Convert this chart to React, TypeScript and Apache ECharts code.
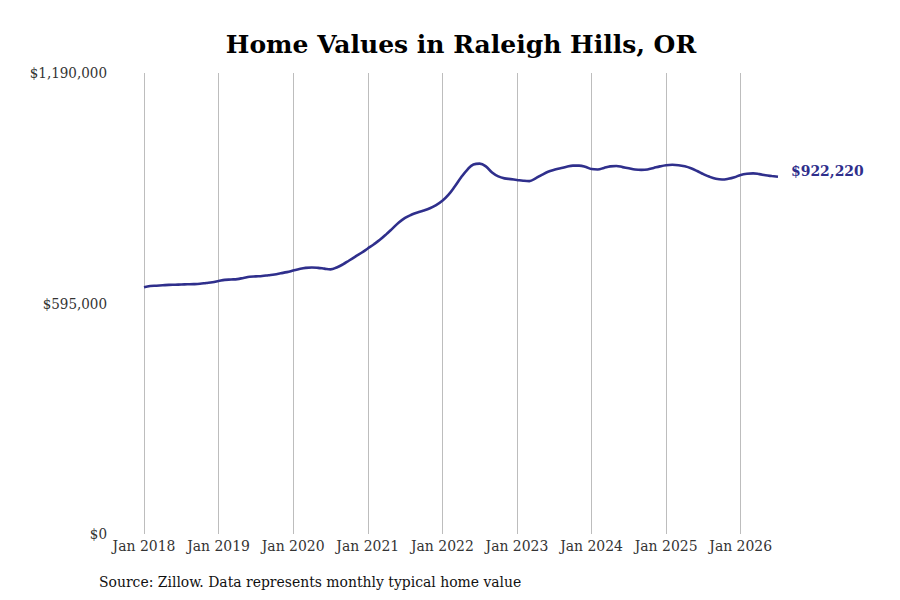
import { useRef, useEffect } from "react";
import * as echarts from "echarts";

const TITLE = "Home Values in Raleigh Hills, OR";
const SOURCE = "Source: Zillow. Data represents monthly typical home value";
const LINE_COLOR = "#2f2f8c";
const TITLE_FONT = "DejaVu Serif";
const FONT = "'DejaVu Serif Condensed', 'DejaVu Serif'";

const START_YEAR = 2018;
const MONTH_NAMES = ["Jan", "Feb", "Mar", "Apr", "May", "Jun", "Jul", "Aug", "Sep", "Oct", "Nov", "Dec"];

// monthly typical home value, Jan 2018 .. Jul 2026
const VALUES_2018 = [637000, 640000, 641000, 642000, 643000, 643500, 644000, 644500, 645000, 646000, 648000, 650000];
const VALUES_2019 = [653000, 656000, 657000, 658000, 661000, 664000, 665000, 666000, 668000, 670000, 673000, 676000];
const VALUES_2020 = [680000, 684000, 687000, 688000, 687000, 685000, 683000, 688000, 696000, 706000, 716000, 726000];
const VALUES_2021 = [737000, 748000, 760000, 774000, 789000, 804000, 816000, 824000, 830000, 835000, 841000, 849000];
const VALUES_2022 = [860000, 876000, 897000, 920000, 940000, 954000, 956000, 949000, 933000, 923000, 918000, 916000];
const VALUES_2023 = [914000, 912000, 911000, 918000, 927000, 935000, 940000, 944000, 948000, 951000, 951000, 948000];
const VALUES_2024 = [942000, 941000, 945000, 949000, 950000, 947000, 944000, 941000, 940000, 941000, 945000, 949000];
const VALUES_2025 = [952000, 953000, 952000, 949000, 944000, 937000, 929000, 922000, 917000, 915000, 917000, 921000];
const VALUES_2026 = [927000, 930000, 931000, 929000, 926000, 924000, 922220];

const VALUES = [
  ...VALUES_2018, ...VALUES_2019, ...VALUES_2020, ...VALUES_2021, ...VALUES_2022,
  ...VALUES_2023, ...VALUES_2024, ...VALUES_2025, ...VALUES_2026,
];

const MONTHS = VALUES.map((_, i) => `${MONTH_NAMES[i % 12]} ${START_YEAR + Math.floor(i / 12)}`);

const Y_MAX = 1190000;
const Y_INTERVAL = 595000;

const fmtMoney = (v: number) => "$" + Math.round(v).toLocaleString("en-US");

export default function App() {
  const ref = useRef<HTMLDivElement>(null);

  useEffect(() => {
    if (!ref.current) return;
    const chart = echarts.init(ref.current, null, { renderer: "svg" });
    const isJan = (i: number) => i % 12 === 0;

    chart.setOption({
      animation: false,
      backgroundColor: "#ffffff",
      title: {
        text: TITLE,
        left: 456,
        top: 27,
        textAlign: "center",
        textStyle: { fontFamily: TITLE_FONT, fontWeight: "bold", fontSize: 25, color: "#000" },
      },
      grid: { left: 144, top: 73, width: 634, height: 461, containLabel: false },
      xAxis: {
        type: "category",
        data: MONTHS,
        boundaryGap: false,
        axisLine: { show: false },
        axisTick: { show: false },
        axisLabel: {
          interval: (i: number) => isJan(i),
          fontFamily: FONT,
          fontSize: 15.5,
          color: "#333",
          margin: 4,
        },
        splitLine: {
          show: true,
          interval: (i: number) => isJan(i),
          lineStyle: { color: "#bdbdbd", width: 1 },
        },
      },
      yAxis: {
        type: "value",
        min: 0,
        max: Y_MAX,
        interval: Y_INTERVAL,
        axisLine: { show: false },
        axisTick: { show: false },
        splitLine: { show: false },
        axisLabel: {
          formatter: (v: number) => fmtMoney(v),
          fontFamily: FONT,
          fontSize: 15,
          color: "#333",
          margin: 37,
        },
      },
      series: [
        {
          type: "line",
          data: VALUES,
          smooth: 0.4,
          showSymbol: false,
          lineStyle: { color: LINE_COLOR, width: 2.6 },
          itemStyle: { color: LINE_COLOR },
          endLabel: {
            show: true,
            formatter: (p: any) => fmtMoney(p.value),
            fontFamily: FONT,
            fontWeight: "bold",
            fontSize: 15.5,
            color: LINE_COLOR,
            distance: 13,
            offset: [0, -6],
          },
        },
      ],
      graphic: [
        {
          type: "text",
          left: 99,
          top: 574,
          style: {
            text: SOURCE,
            font: "15.5px 'DejaVu Serif Condensed', 'DejaVu Serif', serif",
            fill: "#111",
          },
        },
      ],
    });

    return () => chart.dispose();
  }, []);

  return (
    <div
      ref={ref}
      style={{ position: "fixed", left: 0, top: 0, width: 900, height: 600, background: "#fff" }}
    />
  );
}
